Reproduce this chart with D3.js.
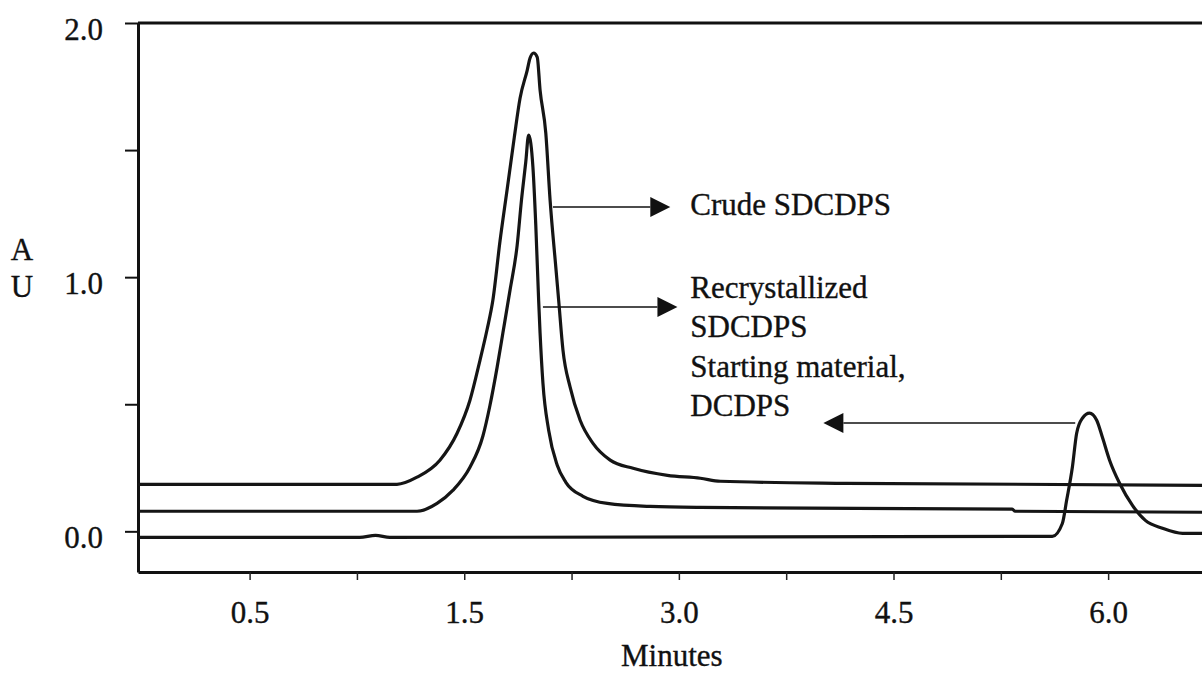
<!DOCTYPE html>
<html>
<head>
<meta charset="utf-8">
<script src="https://cdn.jsdelivr.net/npm/d3@7/dist/d3.min.js"></script>
<style>
  body { margin: 0; background: #fff; }
  svg { display: block; }
  text { font-family: "Liberation Serif", "Times New Roman", "DejaVu Serif", serif; fill: #111; stroke: #111; stroke-width: 0.35px; }
</style>
</head>
<body>
<script>
// retention times (minutes) and absorbance (AU)
var crudeTime = [-0.78, 1.03, 1.17, 1.33, 1.45, 1.54, 1.61, 1.66, 1.70, 1.75, 1.80, 1.85, 1.89, 1.94, 1.96, 1.985,
                 2.01, 2.03, 2.07, 2.10, 2.14, 2.16, 2.19, 2.24, 2.31, 2.40, 2.52, 2.68, 2.92, 3.15, 3.29, 4.17, 6.67];
var crudeAU   = [0.185, 0.185, 0.213, 0.280, 0.386, 0.516, 0.673, 0.795, 0.909, 1.142, 1.346, 1.551, 1.704, 1.814, 1.862, 1.882,
                 1.866, 1.736, 1.567, 1.303, 1.039, 0.909, 0.713, 0.567, 0.437, 0.346, 0.280, 0.248, 0.220, 0.209, 0.197, 0.189, 0.181];

var recrystTime = [-0.78, 1.17, 1.31, 1.42, 1.54, 1.63, 1.68, 1.73, 1.77, 1.82, 1.87, 1.90, 1.93, 1.95, 1.98, 2.00,
                   2.02, 2.03, 2.05, 2.09, 2.15, 2.21, 2.33, 2.50, 2.80, 3.15, 5.33, 5.35, 6.67];
var recrystAU   = [0.079, 0.079, 0.110, 0.161, 0.252, 0.374, 0.496, 0.646, 0.780, 0.949, 1.126, 1.303, 1.453, 1.559, 1.433, 1.205,
                   0.909, 0.780, 0.583, 0.398, 0.260, 0.193, 0.138, 0.110, 0.098, 0.094, 0.087, 0.079, 0.075];

var startTime = [-0.78, 0.77, 0.88, 0.98, 5.61, 5.68, 5.71, 5.75, 5.78, 5.82, 5.87, 5.92, 5.96, 6.01,
                 6.08, 6.17, 6.26, 6.38, 6.52, 6.67];
var startAU   = [-0.024, -0.024, -0.016, -0.024, -0.020, 0.031, 0.122, 0.252, 0.386, 0.445, 0.465, 0.437, 0.370, 0.280,
                 0.189, 0.102, 0.043, 0.012, -0.008, -0.008];

// axis ticks
var xMajorTicks  = [0, 1.5, 3.0, 4.5, 6.0];
var xMajorLabels = ["0.5", "1.5", "3.0", "4.5", "6.0"];
var xMinorTicks  = [0.75, 2.25, 3.75, 5.25];
var yTicks       = [0, 0.5, 1.0, 1.5, 2.0];
var yLabels      = ["0.0", "", "1.0", "", "2.0"];

// annotation arrows: from / to in minutes, at AU level, text lines
var arrowFrom  = [2.12, 2.05, 5.77];
var arrowTo    = [2.94, 2.99, 4.01];
var arrowAU    = [1.276, 0.883, 0.426];
var noteTexts  = [["Crude SDCDPS"], ["Recrystallized", "SDCDPS"], ["Starting material,", "DCDPS"]];
var noteAU     = [1.244, 0.917, 0.606];
var noteTime   = 3.08;

function init(){
    var w = 1202;
    var h = 676;
    var left = 138, top = 23, bottom = 572;

    var svg = d3.select("body").append("svg")
        .attr("width", w)
        .attr("height", h);

    var xScale = d3.scaleLinear().domain([-0.78, 6.67]).range([left, 1204]);
    var yScale = d3.scaleLinear().domain([-0.16, 2.0]).range([bottom, top]);

    // x axis at the bottom, small ticks going down
    var xAxis = d3.axisBottom(xScale)
        .tickValues(xMajorTicks.concat(xMinorTicks))
        .tickSize(8)
        .tickSizeOuter(0)
        .tickPadding(21)
        .tickFormat(function(d){
            var i = xMajorTicks.indexOf(d);
            return i >= 0 ? xMajorLabels[i] : "";
        });
    var gx = svg.append("g")
        .attr("transform", "translate(0," + bottom + ")")
        .call(xAxis);
    gx.select(".domain").attr("stroke", "#111").attr("stroke-width", 3);
    gx.selectAll(".tick line").attr("stroke", "#222").attr("stroke-width", 1.5);
    gx.selectAll(".tick text").attr("font-size", 31).attr("font-family", null).attr("fill", "#111");

    // y axis on the left
    var yAxis = d3.axisLeft(yScale)
        .tickValues(yTicks)
        .tickSize(13)
        .tickSizeOuter(0)
        .tickPadding(22)
        .tickFormat(function(d, i){ return yLabels[i]; });
    var gy = svg.append("g")
        .attr("transform", "translate(" + left + ",0)")
        .call(yAxis);
    gy.select(".domain").attr("stroke", "#111").attr("stroke-width", 3);
    gy.selectAll(".tick line").attr("stroke", "#111").attr("stroke-width", 2);
    gy.selectAll(".tick text").attr("font-size", 31).attr("font-family", null)
        .attr("dy", "0.52em").attr("fill", "#111");

    // top border of the frame
    svg.append("line")
        .attr("x1", left).attr("x2", w)
        .attr("y1", yScale(2.0)).attr("y2", yScale(2.0))
        .attr("stroke", "#111").attr("stroke-width", 3);

    // axis titles
    svg.append("text").attr("x", 22).attr("y", 260).attr("text-anchor", "middle")
        .attr("font-size", 31).text("A");
    svg.append("text").attr("x", 22).attr("y", 297).attr("text-anchor", "middle")
        .attr("font-size", 31).text("U");
    svg.append("text").attr("x", xScale(3.0) - 7).attr("y", 666).attr("text-anchor", "middle")
        .attr("font-size", 31).text("Minutes");

    // the three chromatogram traces
    var traces = [
        d3.zip(crudeTime, crudeAU),
        d3.zip(recrystTime, recrystAU),
        d3.zip(startTime, startAU)
    ];
    var line = d3.line()
        .x(function(d){ return xScale(d[0]); })
        .y(function(d){ return yScale(d[1]); })
        .curve(d3.curveMonotoneX);

    svg.selectAll("path.trace")
        .data(traces)
        .enter()
        .append("path")
        .attr("class", "trace")
        .attr("d", line)
        .attr("fill", "none")
        .attr("stroke", "#151515")
        .attr("stroke-width", 3.2)
        .attr("stroke-linejoin", "round");

    // arrows pointing between peaks and labels
    for (var i = 0; i < arrowFrom.length; i++){
        var x1 = xScale(arrowFrom[i]), x2 = xScale(arrowTo[i]), yy = yScale(arrowAU[i]);
        var dir = x2 > x1 ? 1 : -1;
        var headLen = 20, headHalf = 10;
        svg.append("line")
            .attr("x1", x1).attr("x2", x2 - dir * headLen)
            .attr("y1", yy).attr("y2", yy)
            .attr("stroke", "#111").attr("stroke-width", 1.5);
        svg.append("path")
            .attr("d", "M" + x2 + "," + yy +
                       "L" + (x2 - dir * headLen) + "," + (yy - headHalf) +
                       "L" + (x2 - dir * headLen) + "," + (yy + headHalf) + "Z")
            .attr("fill", "#111");

        var t = svg.append("text")
            .attr("x", xScale(noteTime))
            .attr("y", yScale(noteAU[i]))
            .attr("font-size", 31);
        noteTexts[i].forEach(function(s, j){
            t.append("tspan")
                .attr("x", xScale(noteTime))
                .attr("dy", j === 0 ? 0 : 39)
                .text(s);
        });
    }
}
window.onload = init;
</script>
</body>
</html>
